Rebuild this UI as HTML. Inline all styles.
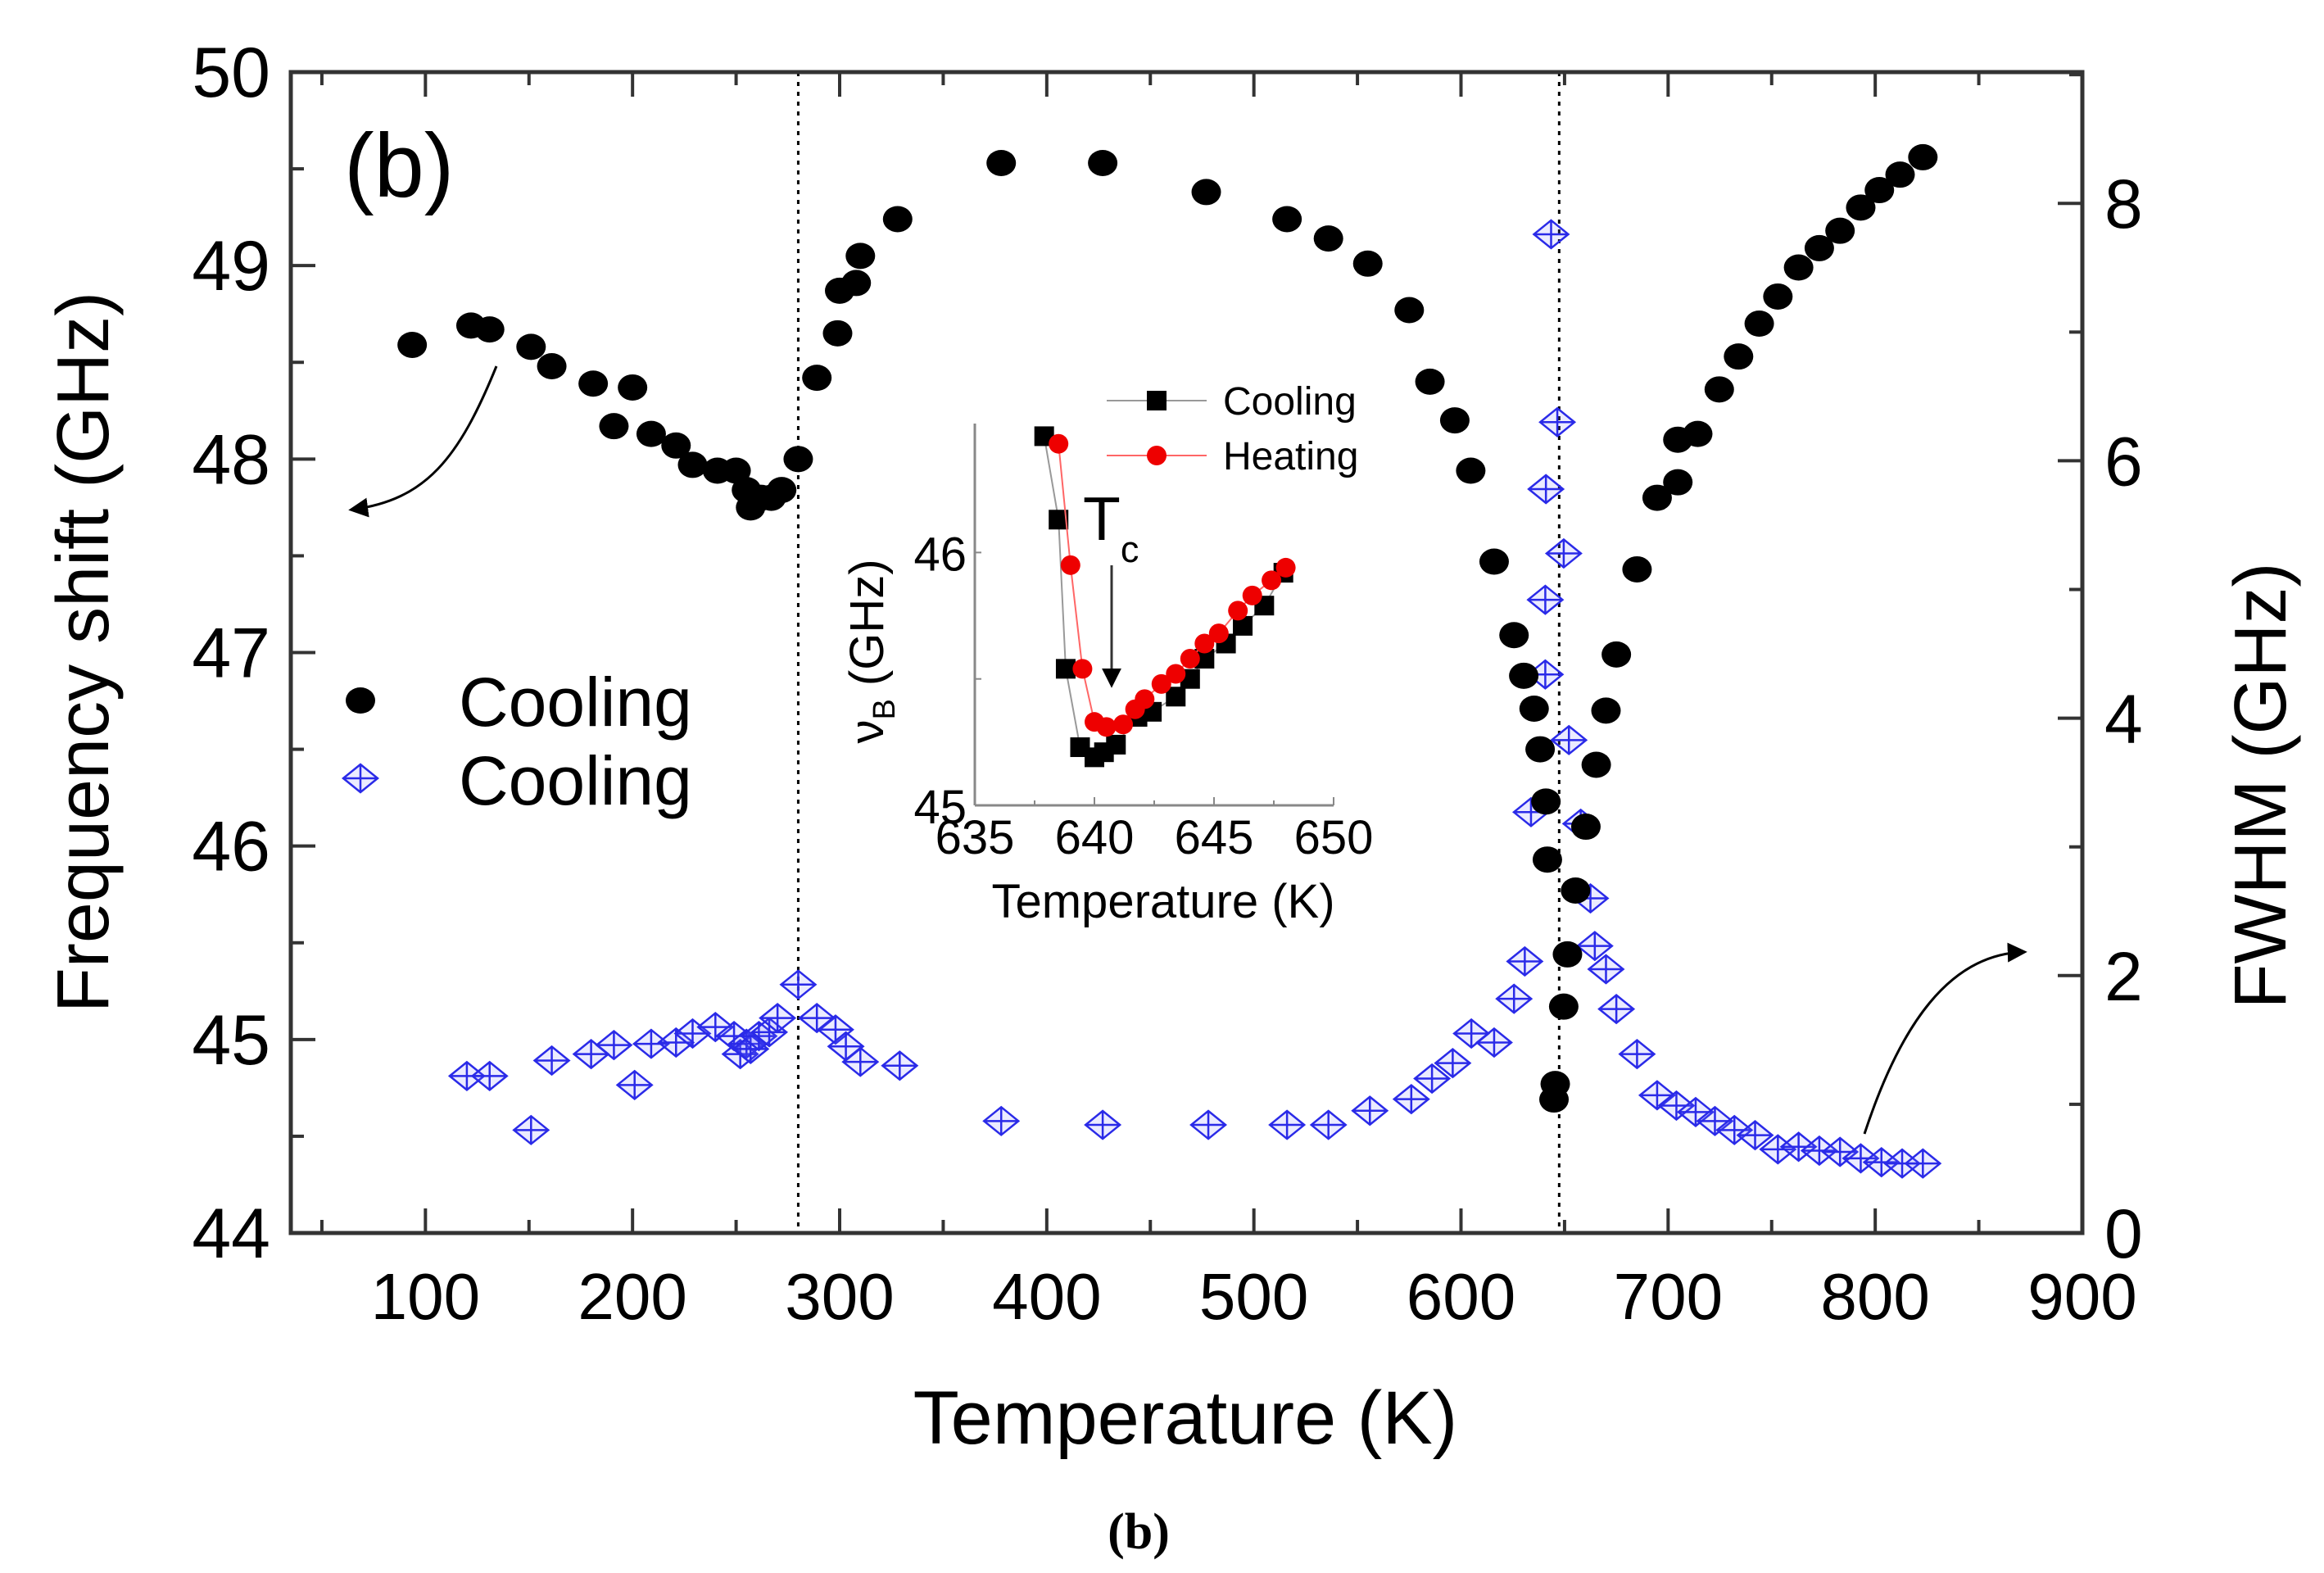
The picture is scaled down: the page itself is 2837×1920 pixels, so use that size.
<!DOCTYPE html>
<html><head><meta charset="utf-8"><style>
html,body{margin:0;padding:0;background:#fff;}
svg{display:block;font-family:"Liberation Sans",sans-serif;}
</style></head><body>
<svg id="chart" width="2837" height="1920" viewBox="0 0 2837 1920" xmlns="http://www.w3.org/2000/svg">
<defs>
<marker id="ah" viewBox="0 0 10 10" refX="8" refY="5" markerWidth="8" markerHeight="8" orient="auto"><path d="M0,0 L10,5 L0,10 z" fill="#000"/></marker>
</defs>
<g id="main"></g>
<g id="inset"></g>
<text x="1390" y="1890" font-family="Liberation Serif, serif" font-weight="bold" font-size="62" text-anchor="middle">(b)</text>
</svg>
<script>
const freqT=[93.6,122,131,151,161,181,191,200,209,221,229,241,250,255,257,262,267,272,280,289,299,300,308,310,328,378,427,477,516,536,555,575,585,597,604.7,616,625.6,630.3,635.3,638.2,641,641.7,649.6,651.4,644.9,645.5,655.3,660.3,665.3,670,675,685,694.7,704.7,704.7,714.3,724.7,734,744,753,763,773,783,793,802,812,823];
const freqV=[48.59,48.69,48.67,48.58,48.48,48.39,48.17,48.37,48.13,48.07,47.97,47.94,47.94,47.84,47.75,47.80,47.80,47.84,48.00,48.42,48.65,48.87,48.91,49.05,49.24,49.53,49.53,49.38,49.24,49.14,49.01,48.77,48.40,48.20,47.94,47.47,47.09,46.88,46.71,46.50,46.23,45.93,45.17,45.44,44.69,44.77,45.77,46.10,46.42,46.70,46.99,47.43,47.80,47.88,48.10,48.13,48.36,48.53,48.70,48.84,48.99,49.09,49.18,49.30,49.39,49.47,49.56];
const fwhmT=[120,131,151,161,180,191,201,209,221,229,240,249,252,255,257,261,266,270,280,289,298,303,310,329,378,427,478,516,536,556,576,586,596,605,616,625.6,630.8,643.5,646.5,641,649.6,640.7,640.7,652.1,633.8,657.8,662.5,664.6,670,675,685,694.7,704,713.3,722.6,732,742,753,763,773,783,793,803,813,823];
const fwhmV=[1.22,1.22,0.80,1.34,1.39,1.46,1.15,1.47,1.48,1.55,1.60,1.53,1.39,1.47,1.43,1.53,1.56,1.67,1.93,1.67,1.58,1.45,1.33,1.30,0.87,0.84,0.84,0.84,0.84,0.95,1.04,1.20,1.32,1.55,1.48,1.82,2.11,7.76,6.30,5.78,5.28,4.92,4.34,3.83,3.27,3.18,2.60,2.23,2.05,1.74,1.39,1.07,0.99,0.94,0.87,0.80,0.76,0.65,0.67,0.64,0.63,0.58,0.55,0.54,0.54];
const xTicks=[100,200,300,400,500,600,700,800,900];
const yLeftTicks=[44,45,46,47,48,49,50];
const yRightTicks=[0,2,4,6,8];
const insetCoolT=[637.9,638.5,638.8,639.4,640.0,640.4,640.9,641.8,642.4,643.4,644.0,644.6,645.5,646.2,647.1,647.9];
const insetCoolV=[46.46,46.13,45.54,45.23,45.19,45.21,45.24,45.35,45.37,45.43,45.50,45.58,45.64,45.71,45.79,45.92];
const insetHeatT=[638.5,639.0,639.5,640.0,640.5,641.2,641.7,642.1,642.8,643.4,644.0,644.6,645.2,646.0,646.6,647.4,648.0];
const insetHeatV=[46.43,45.95,45.54,45.33,45.31,45.32,45.38,45.42,45.48,45.52,45.58,45.64,45.68,45.77,45.83,45.89,45.94];
const insetXTicks=[635,640,645,650];
const insetYTicks=[45,46];

const NS='http://www.w3.org/2000/svg';
function mk(tag,attrs,parent,txt){const e=document.createElementNS(NS,tag);for(const k in attrs)e.setAttribute(k,attrs[k]);if(txt!==undefined)e.textContent=txt;parent.appendChild(e);return e;}
const L=355,R=2542,T=88,B=1505;
const xs=v=>L+(v-35)/(900-35)*(R-L);
const yl=v=>B-(v-44)/6*(B-T);
const yr=v=>B-v/9.02*(B-T);
const g=document.getElementById('main');

[280,647.4].forEach((t,i)=>{const e=mk('line',{x1:xs(t),x2:xs(t),y1:T,y2:B,stroke:'#000','stroke-width':3,'stroke-dasharray':'5,7'},g);

});

const fr=mk('rect',{x:L,y:T,width:R-L,height:B-T,fill:'none',stroke:'#333','stroke-width':5},g);



for(let v=50;v<=900;v+=50){const maj=v%100===0;const len=maj?30:16;
mk('line',{x1:xs(v),x2:xs(v),y1:B,y2:B-len,stroke:'#333','stroke-width':4},g);
mk('line',{x1:xs(v),x2:xs(v),y1:T,y2:T+len,stroke:'#333','stroke-width':4},g);}
xTicks.forEach(v=>{const e=mk('text',{x:xs(v),y:1610,'font-size':80,'text-anchor':'middle'},g,String(v));

});
for(let v=44;v<=50;v+=0.5){const maj=Math.abs(v-Math.round(v))<1e-6;mk('line',{x1:L,x2:L+(maj?30:16),y1:yl(v),y2:yl(v),stroke:'#333','stroke-width':4},g);}
yLeftTicks.forEach(v=>{const e=mk('text',{x:330,y:yl(v)+30,'font-size':86,'text-anchor':'end'},g,String(v));

});
for(let v=0;v<=9;v+=1){mk('line',{x1:R,x2:R-(v%2===0?30:16),y1:yr(v),y2:yr(v),stroke:'#333','stroke-width':4},g);}
yRightTicks.forEach(v=>{const e=mk('text',{x:2569,y:yr(v)+30,'font-size':84,'text-anchor':'start'},g,String(v));

});

let e;
e=mk('text',{x:1447,y:1762,'font-size':92,'text-anchor':'middle'},g,'Temperature (K)');


e=mk('text',{x:0,y:0,'font-size':90,'text-anchor':'middle',transform:'translate(132,796) rotate(-90)'},g,'Frequency shift (GHz)');


e=mk('text',{x:0,y:0,'font-size':90,'text-anchor':'middle',transform:'translate(2790,959) rotate(-90)'},g,'FWHM (GHz)');


e=mk('text',{x:420,y:240,'font-size':110},g,'(b)');



function diamond(cx,cy,parent){const gg=mk('g',{},parent);
mk('path',{d:`M${cx-21},${cy} L${cx},${cy-17} L${cx+21},${cy} L${cx},${cy+17} Z M${cx-21},${cy} L${cx+21},${cy} M${cx},${cy-17} L${cx},${cy+17}`,fill:'rgba(120,120,255,0.15)',stroke:'#2a2ae8','stroke-width':2.5},gg);return gg;}

fwhmT.forEach((t,i)=>{const d=diamond(xs(t),yr(fwhmV[i]),g);

});
freqT.forEach((t,i)=>{const c=mk('ellipse',{cx:xs(t),cy:yl(freqV[i]),rx:18,ry:16,fill:'#000'},g);

});

e=mk('ellipse',{cx:440,cy:855,rx:18,ry:16,fill:'#000'},g);


e=mk('text',{x:560,y:886,'font-size':84},g,'Cooling');


e=diamond(440,950,g);


e=mk('text',{x:560,y:982,'font-size':84},g,'Cooling');



e=mk('path',{d:'M606,447 C560,560 520,610 430,622',fill:'none',stroke:'#000','stroke-width':3,'marker-end':'url(#ah)'},g);


e=mk('path',{d:'M2276,1384 C2320,1250 2380,1165 2470,1162',fill:'none',stroke:'#000','stroke-width':3,'marker-end':'url(#ah)'},g);



const gi=document.getElementById('inset');
const IL=1190,IR=1628,IT=517,IB=983;
const ix=v=>IL+(v-635)/15*(IR-IL);
const iy=v=>IB-(v-45)/(46.51-45)*(IB-IT);
mk('line',{x1:IL,x2:IL,y1:IT,y2:IB,stroke:'#888','stroke-width':3},gi);
mk('line',{x1:IL,x2:IR,y1:IB,y2:IB,stroke:'#888','stroke-width':3},gi);
for(let v=635;v<=650;v+=2.5){mk('line',{x1:ix(v),x2:ix(v),y1:IB,y2:IB-(v%5===0?10:6),stroke:'#888','stroke-width':2},gi);}
[45,45.5,46].forEach(v=>mk('line',{x1:IL,x2:IL+8,y1:iy(v),y2:iy(v),stroke:'#888','stroke-width':2},gi));
insetXTicks.forEach(v=>{const t=mk('text',{x:ix(v),y:1042,'font-size':58,'text-anchor':'middle'},gi,String(v));

});
insetYTicks.forEach(v=>{const t=mk('text',{x:1180,y:iy(v)+22,'font-size':58,'text-anchor':'end'},gi,String(v));

});
e=mk('text',{x:1420,y:1120,'font-size':58,'text-anchor':'middle'},gi,'Temperature (K)');


e=mk('text',{x:0,y:0,'font-size':58,'text-anchor':'middle',transform:'translate(1078,795) rotate(-90)'},gi);


e.innerHTML='ν<tspan font-size="38" dy="14">B</tspan><tspan dy="-14"> (GHz)</tspan>';
let p=insetCoolT.map((t,i)=>ix(t)+','+iy(insetCoolV[i])).join(' ');
mk('polyline',{points:p,fill:'none',stroke:'#999','stroke-width':2},gi);
insetCoolT.forEach((t,i)=>{const s=mk('rect',{x:ix(t)-12,y:iy(insetCoolV[i])-12,width:24,height:24,fill:'#000'},gi);

});
p=insetHeatT.map((t,i)=>ix(t)+','+iy(insetHeatV[i])).join(' ');
mk('polyline',{points:p,fill:'none',stroke:'#f66','stroke-width':2},gi);
insetHeatT.forEach((t,i)=>{const c=mk('circle',{cx:ix(t),cy:iy(insetHeatV[i]),r:12,fill:'#e00'},gi);

});
mk('line',{x1:1351,x2:1473,y1:489,y2:489,stroke:'#999','stroke-width':2},gi);
e=mk('rect',{x:1400,y:477,width:24,height:24,fill:'#000'},gi);


e=mk('text',{x:1493,y:506,'font-size':48},gi,'Cooling');


mk('line',{x1:1351,x2:1473,y1:556,y2:556,stroke:'#f66','stroke-width':2},gi);
e=mk('circle',{cx:1412,cy:556,r:12,fill:'#e00'},gi);


e=mk('text',{x:1493,y:573,'font-size':48},gi,'Heating');


e=mk('text',{x:1322,y:659,'font-size':75},gi);


e.innerHTML='T<tspan font-size="45" dy="27">c</tspan>';
e=mk('line',{x1:1357,x2:1357,y1:690,y2:835,stroke:'#333','stroke-width':3,'marker-end':'url(#ah)'},gi);


</script>
</body></html>
